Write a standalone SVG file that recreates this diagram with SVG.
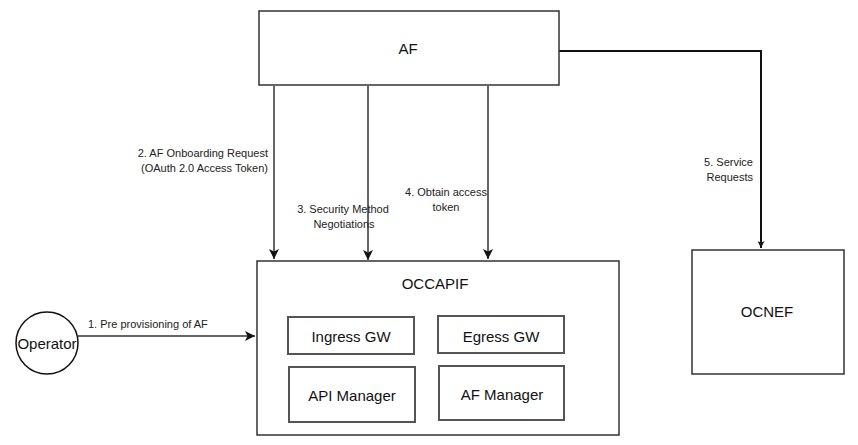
<svg xmlns="http://www.w3.org/2000/svg" width="858" height="445" viewBox="0 0 858 445">
<style>
  .box { fill: #ffffff; stroke: #333333; stroke-width: 1.5; }
  .inner { fill: #ffffff; stroke: #555555; stroke-width: 2; }
  .lbl { font-family: "Liberation Sans", Arial, sans-serif; font-size: 15px; fill: #111111; text-anchor: middle; dominant-baseline: central; }
  .edge { font-family: "Liberation Sans", Arial, sans-serif; font-size: 11px; fill: #222222; dominant-baseline: central; }
  .conn { fill: none; stroke: #333333; stroke-width: 1.5; }
  .conn2 { fill: none; stroke: #111111; stroke-width: 2; }
</style>
<defs>
  <marker id="arr" viewBox="0 0 10 10" refX="10" refY="5" markerWidth="10" markerHeight="10" markerUnits="userSpaceOnUse" orient="auto">
    <path d="M0,0 L10,5 L0,10 L2.5,5 Z" fill="#111111"/>
  </marker>
  <marker id="arrs" viewBox="0 0 10 10" refX="10" refY="5" markerWidth="7" markerHeight="7" markerUnits="userSpaceOnUse" orient="auto">
    <path d="M0,0 L10,5 L0,10 L2.5,5 Z" fill="#111111"/>
  </marker>
</defs>
<rect width="858" height="445" fill="#ffffff"/>

<g id="connectors">
  <line class="conn" x1="274" y1="86" x2="274" y2="259" marker-end="url(#arr)"/>
  <line class="conn" x1="368" y1="86" x2="368" y2="260" marker-end="url(#arr)"/>
  <line class="conn" x1="488" y1="86" x2="488" y2="259" marker-end="url(#arr)"/>
  <line class="conn" x1="78" y1="336" x2="255" y2="336" marker-end="url(#arr)"/>
  <polyline class="conn2" points="559,51 761,51 761,248" marker-end="url(#arrs)"/>
  <text class="edge" x="268" y="153" text-anchor="end">2. AF Onboarding Request</text>
  <text class="edge" x="268" y="168" text-anchor="end">(OAuth 2.0 Access Token)</text>
  <text class="edge" x="343" y="209" text-anchor="middle">3. Security Method</text>
  <text class="edge" x="344" y="224" text-anchor="middle">Negotiations</text>
  <text class="edge" x="446" y="192" text-anchor="middle">4. Obtain access</text>
  <text class="edge" x="446" y="207" text-anchor="middle">token</text>
  <text class="edge" x="753" y="162" text-anchor="end">5. Service</text>
  <text class="edge" x="753" y="177" text-anchor="end">Requests</text>
  <text class="edge" x="88" y="324">1. Pre provisioning of AF</text>
</g>

<g id="af">
  <rect class="box" x="259" y="11" width="300" height="74"/>
  <text class="lbl" x="408" y="48">AF</text>
</g>

<g id="operator">
  <circle cx="47" cy="343" r="31" fill="#ffffff" stroke="#111111" stroke-width="1.5"/>
  <text class="lbl" x="47" y="343">Operator</text>
</g>

<g id="occapif">
  <rect class="box" x="257" y="261" width="362" height="174"/>
  <text class="lbl" x="435" y="283">OCCAPIF</text>
</g>

<g id="ingress-gw">
  <rect class="inner" x="288" y="317" width="126" height="37"/>
  <text class="lbl" x="351" y="336">Ingress GW</text>
</g>

<g id="egress-gw">
  <rect class="inner" x="438" y="316" width="126" height="37"/>
  <text class="lbl" x="501" y="336">Egress GW</text>
</g>

<g id="api-manager">
  <rect class="inner" x="289" y="367" width="126" height="55"/>
  <text class="lbl" x="352" y="395">API Manager</text>
</g>

<g id="af-manager">
  <rect class="inner" x="439" y="366" width="125" height="54"/>
  <text class="lbl" x="502" y="394">AF Manager</text>
</g>

<g id="ocnef">
  <rect class="box" x="692" y="250" width="152" height="124"/>
  <text class="lbl" x="767" y="311">OCNEF</text>
</g>
</svg>
